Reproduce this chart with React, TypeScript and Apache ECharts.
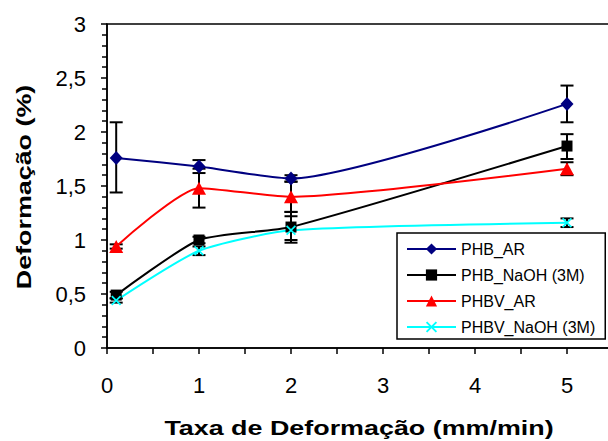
import React, { useEffect, useRef } from "react";
import * as echarts from "echarts";

const xValues = [0.1, 1, 2, 5];
const seriesNames = ["PHB_AR", "PHB_NaOH (3M)", "PHBV_AR", "PHBV_NaOH (3M)"];
const phbAr = [1.76, 1.68, 1.57, 2.26];
const phbNaoh = [0.49, 1.0, 1.12, 1.87];
const phbvAr = [0.94, 1.48, 1.4, 1.66];
const phbvNaoh = [0.44, 0.9, 1.09, 1.16];

// error bar ranges [low, high] per point
const phbArErr = [[1.44, 2.09], [1.62, 1.74], [1.54, 1.6], [2.09, 2.43]];
const phbNaohErr = [[0.46, 0.52], [0.97, 1.03], [1.0, 1.26], [1.75, 1.98]];
const phbvArErr = [[0.92, 0.96], [1.3, 1.66], [1.26, 1.54], [1.6, 1.72]];
const phbvNaohErr = [[0.42, 0.46], [0.86, 0.94], [0.975, 1.22], [1.12, 1.2]];

const yTicks = [0, 0.5, 1, 1.5, 2, 2.5, 3];
const xTickLabels = ["0", "1", "2", "3", "4", "5"];

const FONT = "'Liberation Sans', Arial, sans-serif";
const X_SYMBOL =
  "path://M0,1.2 L1.2,0 L5,3.8 L8.8,0 L10,1.2 L6.2,5 L10,8.8 L8.8,10 L5,6.2 L1.2,10 L0,8.8 L3.8,5 Z";

function pairs(ys: number[]) {
  return xValues.map((x, i) => [x, ys[i]]);
}
function errData(e: number[][]) {
  return xValues.map((x, i) => [x, e[i][0], e[i][1]]);
}

function errorSeries(e: number[][]) {
  return {
    type: "custom",
    data: errData(e),
    encode: { x: 0, y: [1, 2] },
    z: 1,
    silent: true,
    renderItem: (params: any, api: any) => {
      const x = api.value(0);
      const lo = api.coord([x, api.value(1)]);
      const hi = api.coord([x, api.value(2)]);
      const half = 6.5;
      const style = { stroke: "#000", lineWidth: 2 };
      return {
        type: "group",
        children: [
          { type: "line", shape: { x1: lo[0], y1: lo[1], x2: hi[0], y2: hi[1] }, style },
          { type: "line", shape: { x1: lo[0] - half, y1: lo[1], x2: lo[0] + half, y2: lo[1] }, style },
          { type: "line", shape: { x1: hi[0] - half, y1: hi[1], x2: hi[0] + half, y2: hi[1] }, style },
        ],
      };
    },
  };
}

export default function App() {
  const ref = useRef<HTMLDivElement>(null);
  useEffect(() => {
    if (!ref.current) return;
    const chart = echarts.init(ref.current, null, { renderer: "svg" });
    const lineCommon = {
      type: "line",
      smooth: 0.2,
      z: 3,
      showAllSymbol: true,
    };
    chart.setOption({
      animation: false,
      backgroundColor: "#fff",
      textStyle: { fontFamily: FONT },
      grid: {
        left: 107,
        top: 24,
        width: 506,
        height: 324,
        show: true,
        borderColor: "#000",
        borderWidth: 1.5,
        backgroundColor: "transparent",
        outerBoundsMode: "none",
        containLabel: false,
      },
      xAxis: {
        type: "value",
        min: 0,
        max: 5.5,
        interval: 0.5,
        axisLine: { show: true, onZero: false, lineStyle: { color: "#000", width: 1.5 } },
        axisTick: { show: true, length: 6, lineStyle: { color: "#000", width: 1.5 } },
        splitLine: { show: false },
        axisLabel: {
          margin: 26,
          fontSize: 22,
          color: "#000",
          fontFamily: FONT,
          formatter: (v: number) => {
            const idx = Math.round(v);
            return Math.abs(v - idx) < 1e-6 && idx < xTickLabels.length ? xTickLabels[idx] : "";
          },
        },
      },
      yAxis: {
        type: "value",
        min: yTicks[0],
        max: yTicks[yTicks.length - 1],
        interval: 0.5,
        axisLine: { show: true, onZero: false, lineStyle: { color: "#000", width: 1.5 } },
        axisTick: { show: true, length: 6, lineStyle: { color: "#000", width: 1.5 } },
        minorTick: { show: true, splitNumber: 5, length: 5, lineStyle: { color: "#000", width: 1.5 } },
        splitLine: { show: false },
        minorSplitLine: { show: false },
        axisLabel: {
          margin: 21,
          fontSize: 22,
          color: "#000",
          fontFamily: FONT,
          formatter: (v: number) => String(v).replace(".", ","),
        },
      },
      legend: {
        orient: "vertical",
        left: 397,
        top: 233,
        padding: [8, 10, 4, 9],
        itemGap: 10,
        itemWidth: 49,
        itemHeight: 14,
        borderColor: "#000",
        borderWidth: 1.5,
        backgroundColor: "#fff",
        data: seriesNames,
        textStyle: { fontSize: 16, color: "#000", fontFamily: FONT },
      },
      graphic: [
        {
          type: "text",
          x: 24,
          y: 187,
          rotation: Math.PI / 2,
          scaleX: 1.28,
          style: {
            text: "Deformação (%)",
            font: "bold 21px " + FONT,
            fill: "#000",
            align: "center",
            verticalAlign: "middle",
          },
        },
        {
          type: "text",
          x: 359,
          y: 428,
          scaleX: 1.28,
          style: {
            text: "Taxa de Deformação (mm/min)",
            font: "bold 21px " + FONT,
            fill: "#000",
            align: "center",
            verticalAlign: "middle",
          },
        },
      ],
      series: [
        errorSeries(phbArErr),
        errorSeries(phbNaohErr),
        errorSeries(phbvArErr),
        errorSeries(phbvNaohErr),
        {
          ...lineCommon,
          name: seriesNames[0],
          data: pairs(phbAr),
          symbol: "diamond",
          symbolSize: [13, 14],
          lineStyle: { color: "#000080", width: 2 },
          itemStyle: { color: "#000080" },
        },
        {
          ...lineCommon,
          name: seriesNames[1],
          data: pairs(phbNaoh),
          symbol: "rect",
          symbolSize: 11,
          lineStyle: { color: "#000", width: 2 },
          itemStyle: { color: "#000" },
        },
        {
          ...lineCommon,
          name: seriesNames[2],
          data: pairs(phbvAr),
          symbol: "triangle",
          symbolSize: [14, 13],
          lineStyle: { color: "#ff0000", width: 2 },
          itemStyle: { color: "#ff0000" },
        },
        {
          ...lineCommon,
          name: seriesNames[3],
          data: pairs(phbvNaoh),
          symbol: X_SYMBOL,
          symbolSize: 10,
          lineStyle: { color: "#00ffff", width: 2 },
          itemStyle: { color: "#00ffff" },
        },
      ],
    });
    return () => chart.dispose();
  }, []);
  return <div ref={ref} style={{ width: 608, height: 441, position: "absolute", left: 0, top: 0 }} />;
}
